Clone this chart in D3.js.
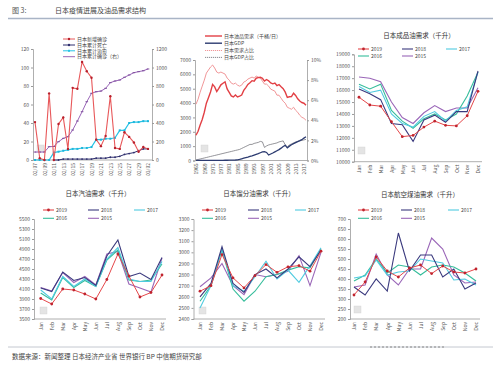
<!DOCTYPE html>
<html>
<head>
<meta charset="utf-8">
<script src="https://cdn.jsdelivr.net/npm/d3@7"></script>
<style>
body { margin: 0; background: #fff; }
text { font-family: "Noto Sans CJK SC", "Noto Sans", sans-serif; }
</style>
</head>
<body>
<svg id="chart" width="500" height="368"></svg>
<script>
// ---- data ----
var covidDates = ["02/07","02/08","02/09","02/10","02/11","02/12","02/13","02/14","02/15","02/16","02/17","02/18","02/19",
  "02/20","02/21","02/22","02/23","02/24","02/25","02/26","02/27","02/28","02/29","03/01","03/02"]
var covidNew = [41, 2, 0, 72, 0, 39, 46, 12, 78, 77, 106, 96, 89, 22, 15, 26, 69, 13, 12, 30, 25, 19, 9, 14, 12]
var covidDeaths = [0, 0, 0, 0, 0, 0, 1, 1, 1, 1, 1, 1, 1, 2, 2, 2, 3, 3, 4, 6, 7, 8, 10, 12, 12]
var covidCured = [0, 0, 0, 0, 8, 9, 10, 11, 12, 12, 13, 13, 14, 22, 22, 23, 23, 24, 32, 32, 40, 41, 41, 42, 42]
var covidTotal = [86, 86, 86, 144, 146, 198, 234, 252, 324, 421, 522, 630, 721, 738, 745, 775, 836, 854, 865, 894, 919, 944, 955, 965, 984]

var oilYears = d3.range(1965, 2019)
var oilDemand = [1760, 2040, 2470, 2860, 3360, 3990, 4370, 4770, 5300, 5130, 4800, 5020, 5270, 5380, 5480, 4990, 4750, 4500,
  4430, 4560, 4430, 4480, 4560, 4880, 5080, 5300, 5420, 5560, 5530, 5730, 5770, 5800, 5720, 5530, 5640, 5550, 5400, 5340,
  5390, 5220, 5290, 5140, 5000, 4760, 4390, 4440, 4450, 4690, 4530, 4300, 4140, 4040, 3990, 3850]
var jpGDP = [5, 5, 6, 6, 7, 8, 8, 10, 10, 11, 12, 12, 15, 15, 16, 16, 20, 25, 30, 35, 50, 80, 120, 160, 200, 240, 290, 330,
  380, 430, 480, 540, 600, 620, 560, 380, 450, 520, 600, 680, 760, 860, 980, 1050, 880, 1000, 1100, 1180, 1250, 1320, 1380,
  1450, 1560, 1650]
var demandShare = [5.6, 6.1, 6.8, 7.4, 8.0, 8.7, 9.0, 9.3, 9.5, 9.2, 8.8, 8.7, 8.8, 8.7, 8.6, 8.2, 8.0, 7.7, 7.6, 7.7, 7.5,
  7.4, 7.5, 7.8, 7.9, 8.1, 8.2, 8.3, 8.2, 8.4, 8.3, 8.2, 7.9, 7.6, 7.6, 7.4, 7.1, 7.0, 6.9, 6.5, 6.5, 6.2, 5.9, 5.7, 5.3,
  5.2, 5.1, 5.3, 5.0, 4.8, 4.5, 4.3, 4.2, 4.0]
var gdpShare = [0.05, 0.1, 0.15, 0.2, 0.25, 0.3, 0.35, 0.4, 0.45, 0.5, 0.55, 0.6, 0.65, 0.7, 0.75, 0.8, 0.85, 0.9, 0.95, 1.0,
  1.05, 1.1, 1.2, 1.3, 1.4, 1.5, 1.6, 1.6, 1.7, 1.75, 1.8, 1.9, 1.85, 1.3, 1.45, 1.55, 1.6, 1.65, 1.7, 1.75, 1.85, 1.9, 1.95,
  1.55, 1.35, 1.55, 1.65, 1.75, 1.85, 1.9, 1.95, 2.0, 2.05, 2.1]

var months = ["Jan","Feb","Mar","Apr","May","Jun","Jul","Aug","Sep","Oct","Nov","Dec"]
var yearNames = ["2019","2018","2017","2016","2015"]

var product2019 = [15400, 14750, 14650, 13350, 12100, 12200, 12900, 13400, 13050, 13000, 13850, 15900]
var product2018 = [16100, 15700, 15200, 13200, 13100, 11700, 13500, 13900, 13300, 14200, 14200, 17600]
var product2017 = [16300, 15800, 16000, 14000, 13200, 12900, 13800, 14200, 13400, 14300, 14600, 17500]
var product2016 = [16500, 16100, 16500, 14300, 13400, 12800, 13600, 14000, 13500, 14000, 15500, 17500]
var product2015 = [17100, 17000, 16700, 15000, 13700, 13200, 14100, 14700, 14200, 14500, 14500, 16200]

var gas2019 = [3910, 3800, 4100, 4080, 4000, 3900, 4290, 4800, 4360, 3940, 4030, 4380]
var gas2018 = [4120, 4050, 4440, 4270, 4330, 4170, 4760, 5080, 4350, 4420, 4290, 4730]
var gas2017 = [4080, 3900, 4350, 4150, 4300, 4150, 4700, 4930, 4300, 4250, 4250, 4650]
var gas2016 = [4020, 3880, 4330, 4130, 4270, 4150, 4680, 4880, 4280, 4250, 4280, 4600]
var gas2015 = [4130, 4060, 4430, 4230, 4350, 4180, 4800, 4850, 4200, 4120, 4040, 4720]

var dist2019 = [2650, 2700, 2980, 2770, 2680, 2790, 2890, 2820, 2870, 2880, 2830, 3010]
var dist2018 = [2600, 2720, 3050, 2720, 2640, 2800, 2850, 2770, 2850, 2960, 2870, 3020]
var dist2017 = [2500, 2700, 3030, 2700, 2650, 2780, 2920, 2760, 2840, 2730, 2880, 3040]
var dist2016 = [2560, 2700, 3020, 2670, 2560, 2650, 2780, 2800, 2840, 2870, 2860, 3030]
var dist2015 = [2690, 2770, 2900, 2700, 2620, 2800, 2780, 2800, 2830, 2970, 2700, 3000]

var jet2019 = [320, 385, 510, 440, 410, 455, 470, 427, 465, 435, 430, 450]
var jet2018 = [360, 320, 400, 340, 630, 440, 520, 520, 410, 450, 350, 380]
var jet2017 = [405, 415, 495, 420, 435, 440, 500, 490, 480, 395, 400, 370]
var jet2016 = [390, 420, 500, 430, 470, 460, 420, 460, 470, 460, 430, 390]
var jet2015 = [360, 370, 525, 420, 370, 450, 450, 605, 550, 420, 380, 385]

// ---- styles ----
var yearColors = { "2019": "#e5474a", "2018": "#3b3a7e", "2017": "#4fcbe0", "2016": "#36bd9b", "2015": "#9a66b8" }
var axisColor = "#9a9a9a"
var labelColor = "#555"
var plain = d3.format("d")

var svg = d3.select("#chart")

// header / footer
svg.append("text").attr("x", 12).attr("y", 13).attr("font-size", 7).attr("fill", "#555").text("图 3:")
svg.append("text").attr("x", 55).attr("y", 13).attr("font-size", 7).attr("fill", "#444").text("日本疫情进展及油品需求结构")
svg.append("line").attr("x1", 8).attr("x2", 493).attr("y1", 18.5).attr("y2", 18.5).attr("stroke", "#a9b4c6").attr("stroke-width", 1.5)
svg.append("line").attr("x1", 8).attr("x2", 493).attr("y1", 347).attr("y2", 347).attr("stroke", "#c4c8d0").attr("stroke-width", 1)
svg.append("line").attr("x1", 370).attr("x2", 444).attr("y1", 347).attr("y2", 347).attr("stroke", "#888").attr("stroke-width", 1).attr("stroke-dasharray", "2,2")
svg.append("text").attr("x", 12).attr("y", 359).attr("font-size", 6.5).attr("fill", "#444")
  .text("数据来源：新闻整理 日本经济产业省 世界银行 BP 中信期货研究部")

function styleAxis(g) {
  g.select(".domain").attr("stroke", axisColor).attr("stroke-width", 0.8)
  g.selectAll(".tick line").attr("stroke", axisColor)
  g.selectAll(".tick text").attr("fill", labelColor).attr("font-size", 5)
}

function rotateLabels(g) {
  g.selectAll(".tick text")
    .attr("transform", "rotate(-90)")
    .attr("x", -3).attr("y", 0).attr("dy", "0.35em")
    .style("text-anchor", "end")
}

function watermark(x, y) {
  svg.append("rect").attr("x", x).attr("y", y).attr("width", 7).attr("height", 7)
    .attr("fill", "#e4e4e4").attr("stroke", "#d0d0d0").attr("stroke-width", 0.4)
}

function title(text, cx, y) {
  svg.append("text").attr("x", cx).attr("y", y).attr("text-anchor", "middle")
    .attr("font-size", 6.5).attr("fill", "#333").text(text)
}

// ---- panel 1: covid ----
;(function () {
  var x = d3.scalePoint().domain(covidDates).range([35, 148])
  var yL = d3.scaleLinear().domain([0, 120]).range([160, 49])
  var yR = d3.scaleLinear().domain([0, 1200]).range([160, 49])

  watermark(37, 145)

  svg.append("g").attr("transform", "translate(33,0)")
    .call(d3.axisLeft(yL).tickValues(d3.range(0, 121, 20)).tickFormat(plain).tickSize(2).tickPadding(2)).call(styleAxis)
  svg.append("g").attr("transform", "translate(152,0)")
    .call(d3.axisRight(yR).tickValues(d3.range(0, 1201, 200)).tickFormat(plain).tickSize(2).tickPadding(2)).call(styleAxis)
  svg.append("g").attr("transform", "translate(0,160)")
    .call(d3.axisBottom(x).tickValues(covidDates.filter((d, i) => i % 2 == 0)).tickSize(0).tickPadding(3))
    .call(styleAxis).call(rotateLabels)
    .select(".domain").attr("d", "M33,0H152")

  var lineL = d3.line().x((d, i) => x(covidDates[i])).y(d => yL(d))
  var lineR = d3.line().x((d, i) => x(covidDates[i])).y(d => yR(d))

  // cumulative confirmed (right)
  svg.append("path").attr("d", lineR(covidTotal)).attr("fill", "none").attr("stroke", "#9a66b8").attr("stroke-width", 1)
  svg.selectAll(".pm").data(covidTotal).enter().append("line")
    .attr("x1", (d, i) => x(covidDates[i]) - 1.3).attr("x2", (d, i) => x(covidDates[i]) + 1.3)
    .attr("y1", d => yR(d)).attr("y2", d => yR(d)).attr("stroke", "#7d4d9c").attr("stroke-width", 1)

  // cured
  svg.append("path").attr("d", lineL(covidCured)).attr("fill", "none").attr("stroke", "#27c3e6").attr("stroke-width", 1.2)
  svg.selectAll(".cm").data(covidCured).enter().append("rect")
    .attr("x", (d, i) => x(covidDates[i]) - 1).attr("y", d => yL(d) - 1).attr("width", 2).attr("height", 2).attr("fill", "#1eb7dc")

  // deaths (from 02/11)
  var deathDates = covidDates.slice(4)
  var deathVals = covidDeaths.slice(4)
  svg.append("path").attr("d", d3.line().x((d, i) => x(deathDates[i])).y(d => yL(d))(deathVals))
    .attr("fill", "none").attr("stroke", "#2f2f6e").attr("stroke-width", 1)
  svg.selectAll(".dm").data(deathVals).enter().append("circle")
    .attr("cx", (d, i) => x(deathDates[i])).attr("cy", d => yL(d)).attr("r", 0.9).attr("fill", "#2f2f6e")

  // new cases
  svg.append("path").attr("d", lineL(covidNew)).attr("fill", "none").attr("stroke", "#e8585a").attr("stroke-width", 1.1)
  svg.selectAll(".nm").data(covidNew).enter().append("circle")
    .attr("cx", (d, i) => x(covidDates[i])).attr("cy", d => yL(d)).attr("r", 1.2).attr("fill", "#b8202c")

  // legend
  var leg = [
    { t: "日本新增确诊", c: "#e8585a", m: "dot" },
    { t: "日本累计死亡", c: "#2f2f6e", m: "dot" },
    { t: "日本累计治愈", c: "#27c3e6", m: "sq" },
    { t: "日本累计确诊（右）", c: "#9a66b8", m: "dash" }
  ]
  var ly = [39, 45, 50.8, 56.7]
  leg.forEach(function (l, i) {
    svg.append("line").attr("x1", 63).attr("x2", 75).attr("y1", ly[i]).attr("y2", ly[i]).attr("stroke", l.c).attr("stroke-width", 1)
    if (l.m == "dot") svg.append("circle").attr("cx", 69).attr("cy", ly[i]).attr("r", 1.2).attr("fill", i == 0 ? "#b8202c" : l.c)
    if (l.m == "sq") svg.append("rect").attr("x", 68).attr("y", ly[i] - 1).attr("width", 2).attr("height", 2).attr("fill", l.c)
    svg.append("text").attr("x", 77).attr("y", ly[i]).attr("dy", "0.35em").attr("font-size", 5).attr("fill", "#444").text(l.t)
  })
})()

// ---- panel 2: oil demand history ----
;(function () {
  var x = d3.scalePoint().domain(oilYears).range([196, 306])
  var yL = d3.scaleLinear().domain([0, 7000]).range([160.5, 60])
  var yR = d3.scaleLinear().domain([0, 10]).range([160.5, 60])

  watermark(201, 145)

  svg.append("g").attr("transform", "translate(195,0)")
    .call(d3.axisLeft(yL).tickValues(d3.range(0, 7001, 1000)).tickFormat(plain).tickSize(2).tickPadding(2)).call(styleAxis)
  svg.append("g").attr("transform", "translate(307,0)")
    .call(d3.axisRight(yR).tickValues(d3.range(0, 11, 2)).tickFormat(d => d + "%").tickSize(2).tickPadding(2)).call(styleAxis)
  svg.append("g").attr("transform", "translate(0,160.5)")
    .call(d3.axisBottom(x).tickValues(oilYears.filter(d => (d - 1965) % 4 == 0)).tickFormat(plain).tickSize(0).tickPadding(3))
    .call(styleAxis).call(rotateLabels)
    .select(".domain").attr("d", "M195,0H307")

  var lineL = d3.line().x((d, i) => x(oilYears[i])).y(d => yL(d))
  var lineR = d3.line().x((d, i) => x(oilYears[i])).y(d => yR(d))

  svg.append("path").attr("d", lineR(gdpShare)).attr("fill", "none").attr("stroke", "#7a7a80").attr("stroke-width", 0.8)
  svg.append("path").attr("d", lineR(demandShare)).attr("fill", "none").attr("stroke", "#ee8a8c").attr("stroke-width", 0.9)
  svg.append("path").attr("d", lineL(jpGDP)).attr("fill", "none").attr("stroke", "#2c3b70").attr("stroke-width", 1.3)
  svg.append("path").attr("d", lineL(oilDemand)).attr("fill", "none").attr("stroke", "#e24045").attr("stroke-width", 1.4)

  var leg = [
    { t: "日本油品需求（千桶/日）", c: "#e24045", w: 1.4, dash: null },
    { t: "日本GDP", c: "#2c3b70", w: 1.4, dash: null },
    { t: "日本需求占比", c: "#ee8a8c", w: 0.9, dash: "1.2,0.8" },
    { t: "日本GDP占比", c: "#7a7a80", w: 0.9, dash: "1.2,0.8" }
  ]
  var ly = [36, 43.2, 50.5, 57.4]
  leg.forEach(function (l, i) {
    svg.append("line").attr("x1", 205).attr("x2", 222).attr("y1", ly[i]).attr("y2", ly[i])
      .attr("stroke", l.c).attr("stroke-width", l.w).attr("stroke-dasharray", l.dash)
    svg.append("text").attr("x", 224).attr("y", ly[i]).attr("dy", "0.35em").attr("font-size", 5).attr("fill", "#444").text(l.t)
  })
})()

// ---- monthly panels ----
function monthlyPanel(cfg) {
  var x = d3.scalePoint().domain(months).range([cfg.x0, cfg.x1])
  var y = d3.scaleLinear().domain(cfg.domain).range([cfg.yBottom, cfg.yTop])

  watermark(cfg.wm[0], cfg.wm[1])

  svg.append("g").attr("transform", "translate(" + cfg.axisX + ",0)")
    .call(d3.axisLeft(y).tickValues(d3.range(cfg.domain[0], cfg.domain[1] + 1, cfg.step)).tickFormat(plain).tickSize(2).tickPadding(2))
    .call(styleAxis)
  svg.append("g").attr("transform", "translate(0," + cfg.yBottom + ")")
    .call(d3.axisBottom(x).tickSize(0).tickPadding(3))
    .call(styleAxis).call(rotateLabels)
    .select(".domain").attr("d", "M" + cfg.axisX + ",0H" + (cfg.x1 + 4))

  var line = d3.line().x((d, i) => x(months[i])).y(d => y(d))
  var order = ["2015", "2016", "2017", "2018", "2019"]
  order.forEach(function (k) {
    var vals = cfg.series[k]
    svg.append("path").attr("d", line(vals)).attr("fill", "none")
      .attr("stroke", yearColors[k]).attr("stroke-width", k == "2019" ? 1 : 1.1)
    if (k == "2019") {
      svg.selectAll(null).data(vals).enter().append("circle")
        .attr("cx", (d, i) => x(months[i])).attr("cy", d => y(d)).attr("r", 1.4).attr("fill", "#c0242e")
    }
  })

  // legend
  var lx = cfg.legX, ly = cfg.legY
  var slots = [[lx[0], ly[0]], [lx[1], ly[0]], [lx[2], ly[0]], [lx[0], ly[1]], [lx[1], ly[1]]]
  yearNames.forEach(function (k, i) {
    var s = slots[i]
    svg.append("line").attr("x1", s[0]).attr("x2", s[0] + 11).attr("y1", s[1]).attr("y2", s[1])
      .attr("stroke", yearColors[k]).attr("stroke-width", 1.1)
    if (k == "2019") svg.append("circle").attr("cx", s[0] + 5.5).attr("cy", s[1]).attr("r", 1.4).attr("fill", "#c0242e")
    svg.append("text").attr("x", s[0] + 13).attr("y", s[1]).attr("dy", "0.35em").attr("font-size", 5).attr("fill", "#444").text(k)
  })
}

title("日本成品油需求（千升）", 419, 38)
monthlyPanel({
  x0: 359, x1: 478, axisX: 354, yTop: 54.3, yBottom: 161.7, domain: [10000, 19000], step: 1000,
  series: { "2019": product2019, "2018": product2018, "2017": product2017, "2016": product2016, "2015": product2015 },
  legX: [358, 402, 446], legY: [49, 56], wm: [358, 147]
})

title("日本汽油需求（千升）", 98, 196)
monthlyPanel({
  x0: 40.7, x1: 162, axisX: 34, yTop: 219, yBottom: 319, domain: [3500, 5500], step: 200,
  series: { "2019": gas2019, "2018": gas2018, "2017": gas2017, "2016": gas2016, "2015": gas2015 },
  legX: [43, 88, 134], legY: [210, 218.3], wm: [40, 307]
})

title("日本馏分油需求（千升）", 259, 196)
monthlyPanel({
  x0: 200, x1: 321, axisX: 193.5, yTop: 219, yBottom: 319, domain: [2400, 3300], step: 100,
  series: { "2019": dist2019, "2018": dist2018, "2017": dist2017, "2016": dist2016, "2015": dist2015 },
  legX: [202, 248, 295], legY: [210, 218.3], wm: [199, 307]
})

title("日本航空煤油需求（千升）", 420, 197)
monthlyPanel({
  x0: 354, x1: 476, axisX: 350, yTop: 219, yBottom: 319, domain: [200, 700], step: 50,
  series: { "2019": jet2019, "2018": jet2018, "2017": jet2017, "2016": jet2016, "2015": jet2015 },
  legX: [358, 401, 448], legY: [210, 218.3], wm: [354, 306]
})
</script>
</body>
</html>
